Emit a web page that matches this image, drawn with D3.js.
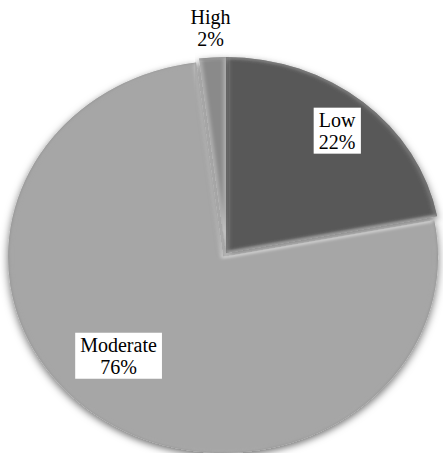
<!DOCTYPE html>
<html>
<head>
<meta charset="utf-8">
<script src="https://cdn.jsdelivr.net/npm/d3@7/dist/d3.min.js"></script>
<style>
  html, body { margin: 0; padding: 0; background: #fff; }
  svg { display: block; }
</style>
</head>
<body>
<script>
// Risk level shares (percent)
const categories = ["Low", "Moderate", "High"];
const values = [22, 76, 2];
const valueLabels = ["22%", "76%", "2%"];
const sliceColors = ["#595959", "#a6a6a6", "#8a8a8a"];

const W = 443, H = 453;
const cx = 226, cy = 253;
const rx = 215, ry = 196;          // slightly tilted pie, drawn as an ellipse
const explode = { Moderate: 5 };   // pulled-out slices (px)
// label placement: radial factor and angular nudge (degrees), box or plain
const labelPlace = {
  Low:      { f: 0.81, nudge: 0, box: true },
  Moderate: { f: 0.70, nudge: 8, box: true },
  High:     { f: 1.15, nudge: 0, box: false }
};
const FONT = "'Liberation Serif', 'Times New Roman', serif";

const svg = d3.select("body").append("svg").attr("width", W).attr("height", H);
const defs = svg.append("defs");

const shadow = defs.append("filter").attr("id", "shadow")
  .attr("x", "-10%").attr("y", "-10%").attr("width", "120%").attr("height", "120%");
shadow.append("feDropShadow").attr("dx", 0).attr("dy", 1.5)
  .attr("stdDeviation", 2).attr("flood-color", "#000").attr("flood-opacity", 0.55);

const soft = defs.append("filter").attr("id", "soft");
soft.append("feGaussianBlur").attr("stdDeviation", 0.9);

const data = categories.map((c, i) => ({ cat: c, value: values[i], label: valueLabels[i], color: sliceColors[i] }));

const pie = d3.pie().sort(null).value(d => d.value).startAngle(0).endAngle(2 * Math.PI);
const arcs = pie(data);

const R = 100; // unit radius, scaled to the ellipse
const arc = d3.arc().innerRadius(0).outerRadius(R);
const sx = rx / R, sy = ry / R;

const root = svg.append("g").attr("transform", `translate(${cx},${cy})`);

function offsetOf(a) {
  const e = explode[a.data.cat] || 0;
  const m = (a.startAngle + a.endAngle) / 2;
  return [Math.sin(m) * e, -Math.cos(m) * e];
}

const slices = root.selectAll("g.slice").data(arcs).join("g")
  .attr("class", "slice")
  .attr("filter", "url(#shadow)")
  .attr("transform", a => {
    const [dx, dy] = offsetOf(a);
    return `translate(${dx},${dy}) scale(${sx},${sy})`;
  });

slices.each(function (a, i) {
  const g = d3.select(this);
  const clipId = "clip" + i;
  defs.append("clipPath").attr("id", clipId).append("path").attr("d", arc(a));
  g.append("path").attr("d", arc(a)).attr("fill", a.data.color);
  // soft bevel: light inner rim and darker outer edge
  const bevel = g.append("g").attr("clip-path", `url(#${clipId})`);
  bevel.append("path").attr("d", arc(a))
    .attr("fill", "none")
    .attr("stroke", "#ffffff").attr("stroke-opacity", 0.55)
    .attr("stroke-width", 3).attr("vector-effect", "non-scaling-stroke")
    .attr("filter", "url(#soft)");
  bevel.append("path")
    .attr("d", d3.arc().innerRadius(R - 0.8).outerRadius(R + 2)(a))
    .attr("fill", "#000").attr("fill-opacity", 0.25)
    .attr("filter", "url(#soft)");
});

// labels
arcs.forEach(a => {
  const p = labelPlace[a.data.cat];
  const m = (a.startAngle + a.endAngle) / 2 + p.nudge * Math.PI / 180;
  const [dx, dy] = offsetOf(a);
  const x = cx + dx + Math.sin(m) * rx * p.f;
  const y = cy + dy - Math.cos(m) * ry * p.f;
  const g = svg.append("g").attr("transform", `translate(${x},${y})`);
  const t = g.append("text")
    .attr("text-anchor", "middle")
    .attr("font-family", FONT)
    .attr("font-size", 20)
    .attr("fill", "#000");
  t.append("tspan").attr("x", 0).attr("y", -4).text(a.data.cat);
  t.append("tspan").attr("x", 0).attr("y", 18).text(a.data.label);
  if (p.box) {
    const bb = t.node().getBBox();
    g.insert("rect", "text")
      .attr("x", bb.x - 5).attr("y", bb.y - 1)
      .attr("width", bb.width + 10).attr("height", bb.height + 2)
      .attr("fill", "#fff");
  }
});
</script>
</body>
</html>
